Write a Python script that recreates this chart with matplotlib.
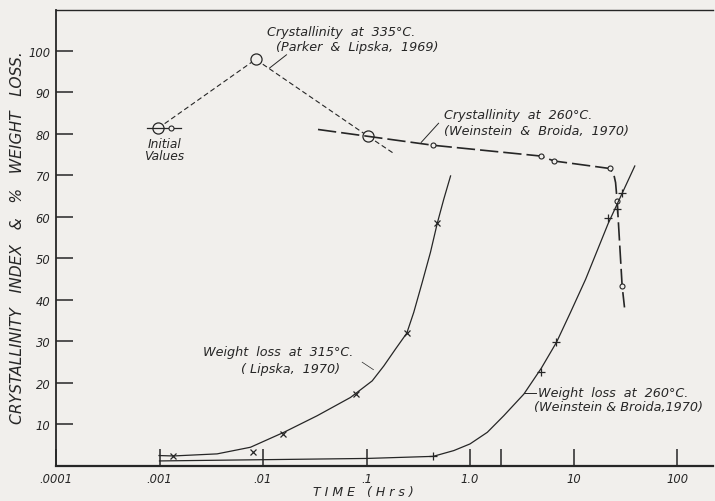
import matplotlib
matplotlib.use("Agg")
import matplotlib.pyplot as plt

BG = "#f1efec"
INK = "#262626"

# ---------------- data ----------------
# Crystallinity at 335 C (Parker & Lipska, 1969)
c335_time = [0.00097, 0.0085, 0.103]
c335_value = [81.3, 97.9, 79.4]
c335_line_time = [0.00097, 0.0085, 0.103, 0.184]
c335_line_value = [81.3, 97.9, 79.4, 75.2]

# Crystallinity at 260 C (Weinstein & Broida, 1970)
c260_time = [0.00128, 0.438, 4.8, 6.5, 22.3, 26.4, 29.5]
c260_value = [81.3, 77.2, 74.6, 73.4, 71.6, 63.8, 43.3]
c260_line_time = [0.034, 0.438, 4.8, 6.5, 22.3, 24.5, 25.5, 26.4, 29.5, 31.1]
c260_line_value = [81.0, 77.2, 74.6, 73.4, 71.6, 70.2, 68.2, 63.8, 43.3, 38.1]

# initial values bar
init_time = [0.00075, 0.00163]
init_value = [81.3, 81.3]

# Weight loss at 315 C (Lipska, 1970)
w315_time = [0.00136, 0.0080, 0.0155, 0.0794, 0.245, 0.484]
w315_value = [2.2, 3.3, 7.7, 17.2, 31.9, 58.5]
w315_curve_time = [0.00099, 0.00136, 0.0036, 0.00757, 0.0159, 0.0334, 0.070,
                   0.1135, 0.147, 0.191, 0.245, 0.286, 0.345, 0.415, 0.484,
                   0.558, 0.649]
w315_curve_value = [2.4, 2.3, 2.8, 4.4, 8.0, 12.0, 16.4,
                    20.4, 24.0, 28.1, 31.9, 36.9, 44.1, 51.4, 58.5,
                    64.2, 69.8]

# Weight loss at 260 C (Weinstein & Broida, 1970)
w260_time = [0.44, 4.87, 6.85, 21.6, 26.4, 29.5]
w260_value = [2.2, 22.6, 29.7, 59.6, 61.8, 65.6]
w260_curve_time = [0.001, 0.01, 0.1, 0.44, 0.698, 1.0, 1.47, 2.12, 3.31,
                   4.87, 6.85, 9.35, 13.1, 21.6, 39.1]
w260_curve_value = [1.1, 1.4, 1.7, 2.2, 3.6, 5.2, 8.0, 12.0, 17.2,
                    23.4, 29.7, 36.9, 44.9, 58.3, 72.2]

x_ticks = [0.0001, 0.001, 0.01, 0.1, 1.0, 10, 100]
x_tick_labels = [".0001", ".001", ".01", ".1", "1.0", "10", "100"]
x_extra_tick = [2.0]
y_ticks = [10, 20, 30, 40, 50, 60, 70, 80, 90, 100]

# ---------------- figure ----------------
fig = plt.figure(figsize=(7.15, 5.02), dpi=100, facecolor=BG)
ax = fig.add_axes([56 / 715, 1 - 466.5 / 502, (713 - 56) / 715, (466.5 - 11) / 502])
ax.set_facecolor(BG)
ax.set_xscale("log")
ax.set_xlim(1e-4, 10 ** (-4 + 657 / 103.5))
ax.set_ylim(0, 109.8)

for s in ["left", "bottom", "top"]:
    ax.spines[s].set_color(INK)
ax.spines["right"].set_visible(False)
ax.spines["left"].set_linewidth(1.3)
ax.spines["bottom"].set_linewidth(1.6)
ax.spines["top"].set_linewidth(1.0)

tick_font = dict(family="DejaVu Sans", style="italic", size=8.3)
ax.set_xticks(x_ticks)
ax.set_xticklabels(x_tick_labels, **tick_font)
ax.set_xticks(x_extra_tick, minor=True)
ax.set_xticklabels([""], minor=True)
ax.set_yticks(y_ticks)
ax.set_yticklabels([str(v) for v in y_ticks], **tick_font)
ax.tick_params(axis="both", which="both", direction="in", length=12, width=1.1,
               color=INK, labelcolor=INK, pad=4)
ax.tick_params(axis="x", which="major", pad=5)
ax.tick_params(axis="x", which="minor", length=12, width=1.1)
ax.tick_params(axis="y", right=False)

# ---------------- series ----------------
# 335 C crystallinity (short dashes)
ax.plot(c335_line_time, c335_line_value, color=INK, lw=0.8, dashes=(4.5, 2.7))
ax.plot(c335_time, c335_value, ls="none", marker="o", ms=8, mfc=BG, mec=INK, mew=0.9)

# initial values bar
ax.plot(init_time, init_value, color=INK, lw=0.9)

# 260 C crystallinity (long dashes)
ax.plot(c260_line_time, c260_line_value, color=INK, lw=1.2, dashes=(11, 3))
ax.plot(c260_time, c260_value, ls="none", marker="o", ms=3.6, mfc=BG, mec=INK, mew=0.8)

# weight loss 315 C
ax.plot(w315_curve_time, w315_curve_value, color=INK, lw=0.9)
ax.plot(w315_time, w315_value, ls="none", marker="x", ms=4.2, mec=INK, mew=0.9)

# weight loss 260 C
ax.plot(w260_curve_time, w260_curve_value, color=INK, lw=0.9)
ax.plot(w260_time, w260_value, ls="none", marker="+", ms=6, mec=INK, mew=0.9)

# ---------------- annotations ----------------
afont = dict(family="DejaVu Sans", style="italic", size=9.2, color=INK, va="center", ha="left")
ax.text(0.0110, 104.7, "Crystallinity  at  335°C.", **afont)
ax.text(0.0135, 101.1, "(Parker  &  Lipska,  1969)", **afont)
ax.plot([0.01686, 0.01156], [99.0, 95.8], color=INK, lw=0.7)

ax.text(0.00112, 77.7, "Initial", **{**afont, "ha": "center", "size": 8.8})
ax.text(0.00112, 74.8, "Values", **{**afont, "ha": "center", "size": 8.8})

ax.text(0.567, 84.7, "Crystallinity  at  260°C.", **afont)
ax.text(0.567, 80.8, "(Weinstein  &  Broida,  1970)", **afont)
ax.plot([0.497, 0.338], [82.5, 77.9], color=INK, lw=0.7)

ax.text(0.00266, 27.5, "Weight  loss  at  315°C.", **afont)
ax.text(0.00615, 23.4, "( Lipska,  1970)", **afont)
ax.plot([0.0908, 0.1167], [24.9, 23.1], color=INK, lw=0.5)

ax.text(4.56, 17.5, "Weight  loss  at  260°C.", **afont)
ax.text(4.11, 14.3, "(Weinstein & Broida,1970)", **afont)
ax.plot([3.31, 4.30], [17.5, 17.5], color=INK, lw=0.7)

# axis titles
fig.text(18 / 715, 1 - 238 / 502, "CRYSTALLINITY   INDEX   &   %   WEIGHT   LOSS.",
         rotation=90, ha="center", va="center", family="DejaVu Sans",
         style="italic", size=11.2, color=INK)
fig.text(363 / 715, 1 - 493 / 502, "T I M E   ( H r s )", ha="center", va="center",
         family="DejaVu Sans", style="italic", size=9, color=INK)

fig.savefig("out.png", dpi=100, facecolor=BG)
